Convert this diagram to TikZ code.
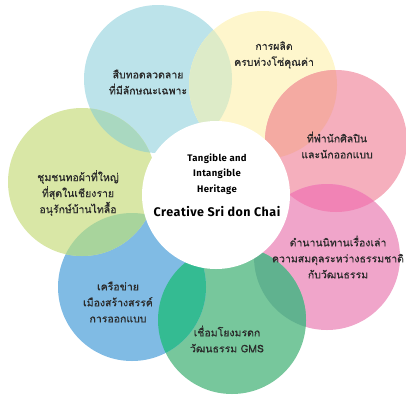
\documentclass[tikz,border=0pt]{standalone}
\usepackage{fontspec}
\setmainfont{Fira Sans}
\newfontfamily\thaifont[Script=Thai,FakeBold=0.5]{Loma}
\newfontfamily\headfont[LetterSpace=4]{Fira Sans SemiBold}[BoldFont=Fira Sans Bold]
\definecolor{cLB}{HTML}{BCE3EA}
\definecolor{cYE}{HTML}{FEF6CC}
\definecolor{cPK}{HTML}{F5AFBD}
\definecolor{cMG}{HTML}{F0A5CA}
\definecolor{cLG}{HTML}{D9E7A6}
\definecolor{cBL}{HTML}{80BBE4}
\definecolor{cGR}{HTML}{77C79C}
\definecolor{oLBYE}{HTML}{DDEBC8}
\definecolor{oYEPK}{HTML}{F4AAA2}
\definecolor{oPKMG}{HTML}{F183B5}
\definecolor{oMGGR}{HTML}{60B28F}
\definecolor{oGRBL}{HTML}{34BB92}
\definecolor{oBLLG}{HTML}{A8D49C}
\definecolor{oLGLB}{HTML}{A9D8C0}
\definecolor{txt}{HTML}{2A2A2A}
\tikzset{
  lbl/.style={align=center, text=txt, font=\thaifont\fontsize{10.5}{16}\selectfont, inner sep=0pt},
  hd/.style={align=center, text=black, font=\headfont\bfseries\fontsize{9.5}{15.5}\selectfont, inner sep=0pt},
}
\newcommand{\rr}{74pt}
\begin{document}
\begin{tikzpicture}[x=1pt,y=-1pt]
\useasboundingbox (0,0) rectangle (406,394);
\coordinate (LB) at (158,79);
\coordinate (YE) at (263,85);
\coordinate (PK) at (336,141);
\coordinate (MG) at (327,257);
\coordinate (GR) at (232,320);
\coordinate (BL) at (132,287);
\coordinate (LG) at (82,182);
\coordinate (WC) at (216,195);
% base circles
\fill[cLB] (LB) circle[radius=\rr];
\fill[cYE] (YE) circle[radius=\rr];
\fill[cPK] (PK) circle[radius=71pt];
\fill[cMG] (MG) circle[radius=73pt];
\fill[cGR] (GR) circle[radius=\rr];
\fill[cBL] (BL) circle[radius=\rr];
\fill[cLG] (LG) circle[radius=\rr];
% overlaps
\begin{scope}\clip (LB) circle[radius=\rr]; \fill[oLBYE] (YE) circle[radius=\rr];\end{scope}
\begin{scope}\clip (YE) circle[radius=\rr]; \fill[oYEPK] (PK) circle[radius=71pt];\end{scope}
\begin{scope}\clip (PK) circle[radius=71pt]; \fill[oPKMG] (MG) circle[radius=73pt];\end{scope}
\begin{scope}\clip (MG) circle[radius=73pt]; \fill[oMGGR] (GR) circle[radius=\rr];\end{scope}
\begin{scope}\clip (GR) circle[radius=\rr]; \fill[oGRBL] (BL) circle[radius=\rr];\end{scope}
\begin{scope}\clip (BL) circle[radius=\rr]; \fill[oBLLG] (LG) circle[radius=\rr];\end{scope}
\begin{scope}\clip (LG) circle[radius=\rr]; \fill[oLGLB] (LB) circle[radius=\rr];\end{scope}
% centre
\fill[white] (WC) circle[radius=\rr];
% labels
\node[lbl] (t1) at (148,82) {สืบทอดลวดลาย\\ที่มีลักษณะเฉพาะ};
\node[lbl] (t2) at (274,55) {การผลิต\\ครบห่วงโซ่คุณค่า};
\node[lbl] (t3) at (337,145) {ที่พำนักศิลปิน\\และนักออกแบบ};
\node[lbl] (t4) at (78,193) {ชุมชนทอผ้าที่ใหญ่\\ที่สุดในเชียงราย\\อนุรักษ์บ้านไทลื้อ};
\node[lbl] (t5) at (338,257) {ตำนานนิทานเรื่องเล่า\\ความสมดุลระหว่างธรรมชาติ\\กับวัฒนธรรม};
\node[lbl] (t6) at (118,302) {เครือข่าย\\เมืองสร้างสรรค์\\การออกแบบ};
\node[lbl] (t7) at (227,339) {เชื่อมโยงมรดก\\วัฒนธรรม GMS};
\node[hd] (c1) at (217,174) {Tangible and\\Intangible\\Heritage};
\node[text=black, font=\headfont\bfseries\fontsize{12.5}{14}\selectfont, inner sep=0pt] (c2) at (217,212) {Creative Sri don Chai};
\end{tikzpicture}
\end{document}
